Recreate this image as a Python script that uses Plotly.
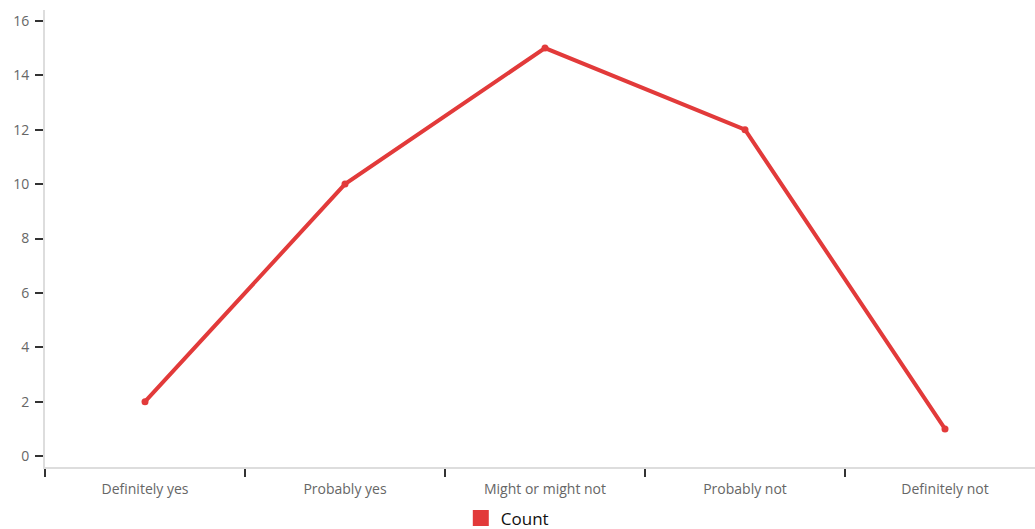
import plotly.graph_objects as go

categories = ["Definitely yes", "Probably yes", "Might or might not", "Probably not", "Definitely not"]
counts = [2, 10, 15, 12, 1]
series_name = "Count"
y_ticks = [0, 2, 4, 6, 8, 10, 12, 14, 16]

RED = "#e23a3a"

fig = go.Figure()

fig.add_trace(go.Scatter(
    x=categories,
    y=counts,
    mode="lines+markers",
    line=dict(color=RED, width=4),
    marker=dict(color=RED, size=7),
    showlegend=False,
    hoverinfo="x+y",
))

# legend entry drawn as a filled square
fig.add_trace(go.Scatter(
    x=[None],
    y=[None],
    mode="markers",
    name=series_name,
    marker=dict(color=RED, symbol="square", size=16),
))

fig.update_layout(
    width=1035,
    height=529,
    margin=dict(l=45, r=0, t=10, b=62, autoexpand=False),
    paper_bgcolor="white",
    plot_bgcolor="white",
    font=dict(family="Open Sans, sans-serif", color="#666666", size=13),
    showlegend=True,
    legend=dict(
        orientation="h",
        x=0.42,
        xanchor="left",
        y=-0.073,
        yanchor="top",
        font=dict(color="#111111", size=17),
        itemwidth=30,
    ),
    xaxis=dict(
        type="category",
        range=[-0.5, 4.45],
        showgrid=False,
        zeroline=False,
        showline=True,
        linecolor="#dddddd",
        linewidth=2,
        ticks="outside",
        tickson="boundaries",
        ticklen=8,
        tickwidth=1.5,
        tickcolor="#333333",
        ticklabelstandoff=8,
        tickfont=dict(size=14, color="#666666"),
    ),
    yaxis=dict(
        range=[-0.4, 16.4],
        tickvals=y_ticks,
        showgrid=False,
        zeroline=False,
        showline=True,
        linecolor="#dddddd",
        linewidth=2,
        ticks="outside",
        ticklen=8,
        tickwidth=1.5,
        tickcolor="#333333",
        ticklabelstandoff=3,
        tickfont=dict(size=14, color="#666666"),
    ),
)

fig.write_html("out.html")
